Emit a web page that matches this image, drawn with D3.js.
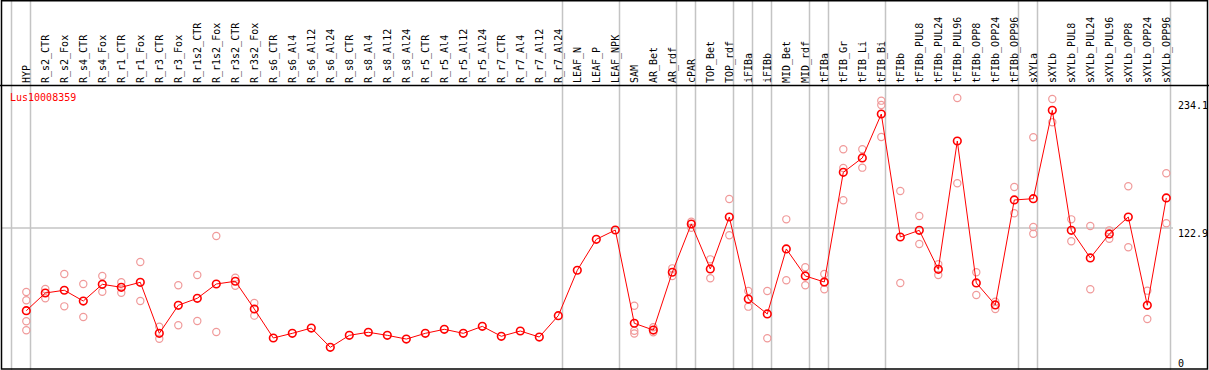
<!DOCTYPE html>
<html><head><meta charset="utf-8">
<script src="https://cdn.jsdelivr.net/npm/d3@7"></script>
<style>body{margin:0;background:#fff} svg{display:block}</style>
</head><body><svg id="c" width="1209" height="370"></svg>
<script>
const categories = ["HYP","R_s2_CTR","R_s2_Fox","R_s4_CTR","R_s4_Fox","R_r1_CTR","R_r1_Fox","R_r3_CTR","R_r3_Fox","R_r1s2_CTR","R_r1s2_Fox","R_r3s2_CTR","R_r3s2_Fox","R_s6_CTR","R_s6_Al4","R_s6_Al12","R_s6_Al24","R_s8_CTR","R_s8_Al4","R_s8_Al12","R_s8_Al24","R_r5_CTR","R_r5_Al4","R_r5_Al12","R_r5_Al24","R_r7_CTR","R_r7_Al4","R_r7_Al12","R_r7_Al24","LEAF_N","LEAF_P","LEAF_NPK","SAM","AR_Bet","AR_rdf","cPAR","TOP_Bet","TOP_rdf","iFIBa","iFIBb","MID_Bet","MID_rdf","tFIBa","tFIB_Gr","tFIB_Li","tFIB_Bi","tFIBb","tFIBb_PUL8","tFIBb_PUL24","tFIBb_PUL96","tFIBb_OPP8","tFIBb_OPP24","tFIBb_OPP96","sXYLa","sXYLb","sXYLb_PUL8","sXYLb_PUL24","sXYLb_PUL96","sXYLb_OPP8","sXYLb_OPP24","sXYLb_OPP96"];
const means = [44.8,61.5,64.1,53.9,69.7,66.9,71.6,23.4,49.9,56.5,70.0,72.6,46.4,19.0,23.4,28.4,10.2,21.5,24.4,21.5,18.0,23.4,27.2,23.4,30.0,20.6,25.6,19.9,40.1,83.0,112.2,121.0,32.9,26.5,81.1,126.7,84.2,133.3,55.8,41.7,103.1,77.6,71.9,175.5,189.1,230.6,114.4,120.7,83.9,205.1,71.0,50.2,149.4,150.6,234.1,120.7,94.6,117.3,133.3,49.9,151.3];
const replicates = [[62.5,54.6,34.8,26.3],[65.3,56.5],[79.5,48.9],[70.0,38.8],[77.6,62.7],[71.6,61.8],[90.8,53.9],[29.7,18.3],[68.8,31.0],[78.5,35.1],[115.4,24.7],[76.0,68.4],[52.1,40.1],
[],[],[],[],[],[],[],[],[],[],[],[],[],[],[],[],[],[],[],
[49.5,25.9,23.2],[29.1,24.4],[84.8,77.6],[128.9,123.2],[93.3,75.4],[150.3,116.0],[63.4,48.6],[63.4,18.7],[131.1,73.5],[85.8,68.8],[79.5,65.0,71.5],[197.3,179.6,149.1],[197.3,179.9],[243.2,239.1,208.9],[157.9,71.0],[134.3,107.8],[88.6,78.5],[245.7,165.2],[81.1,59.6],[53.3,46.4],[161.7,136.8],[208.6,123.9,117.5],[244.8,222.8],[131.1,110.4],[124.8,65.0],[120.7,112.8],[162.3,104.7],[63.7,36.9],[174.6,127.4]];
const groupEnds = ["HYP","R_r7_Al24","LEAF_NPK","AR_rdf","cPAR","TOP_rdf","iFIBa","iFIBb","MID_rdf","tFIBa","tFIB_Bi","tFIBb_OPP96","sXYLa","sXYLb_OPP96"];
const yTicks = [0,122.9,234.1];
const gridValues = [122.9];
const geneLabel = "Lus10008359";

const W = 1209, H = 370;
const svg = d3.select("#c");
const font = "'DejaVu Sans Mono', 'Liberation Mono', monospace";
const x = d3.scalePoint().domain(categories).range([26.3, 1166.3]);
const y = d3.scaleLinear().domain([0, 234.1]).range([358.1, 110.3]);
const step = x.step();
const grey = "#c4c4c4";

// vertical group separators
const sepX = [x(categories[0]) - step + 4.2].concat(groupEnds.map(c => x(c) + 4.2));
svg.selectAll("line.sep").data(sepX).enter().append("line")
  .attr("x1", d => d).attr("x2", d => d).attr("y1", 0).attr("y2", H)
  .attr("stroke", grey).attr("stroke-width", 1.5);

// horizontal grid
svg.selectAll("line.grid").data(gridValues).enter().append("line")
  .attr("x1", 1).attr("x2", 1173).attr("y1", d => y(d)).attr("y2", d => y(d))
  .attr("stroke", grey).attr("stroke-width", 1.5);

// header line
svg.append("line").attr("x1", 0).attr("x2", W).attr("y1", 85.5).attr("y2", 85.5)
  .attr("stroke", "#000").attr("stroke-width", 1.5);
// frame
svg.append("rect").attr("x", 1.5).attr("y", 0.75).attr("width", 1206).attr("height", 368.25)
  .attr("fill", "none").attr("stroke", "#000").attr("stroke-width", 1.5);

// column labels
svg.selectAll("text.cat").data(categories).enter().append("text")
  .attr("transform", d => `translate(${x(d)},83) rotate(-90)`)
  .attr("dy", "0.36em")
  .attr("font-family", font).attr("font-size", 10).attr("fill", "#000")
  .text(d => d);

// axis labels
const maxTick = d3.max(yTicks);
svg.selectAll("text.yt").data(yTicks).enter().append("text")
  .attr("x", 1178)
  .attr("y", d => d === maxTick ? y(d) - 1 : y(d) + 8.5)
  .attr("font-family", font).attr("font-size", 10).attr("fill", "#000")
  .text(d => d === 0 ? "0" : d.toFixed(1));

// gene label
svg.append("text").attr("x", 10).attr("y", 101)
  .attr("font-family", font).attr("font-size", 10).attr("fill", "#ff0000")
  .text(geneLabel);

// replicate points
const repPts = [];
replicates.forEach((arr, i) => arr.forEach(v => repPts.push({c: categories[i], v})));
svg.selectAll("circle.rep").data(repPts).enter().append("circle")
  .attr("cx", d => x(d.c)).attr("cy", d => y(d.v)).attr("r", 3.6)
  .attr("fill", "none").attr("stroke", "#f09a9a").attr("stroke-width", 1.2);

// mean line
const line = d3.line().x((d, i) => x(categories[i])).y(d => y(d));
svg.append("path").attr("d", line(means)).attr("fill", "none")
  .attr("stroke", "#ff0000").attr("stroke-width", 1);

// mean points
svg.selectAll("circle.mean").data(means).enter().append("circle")
  .attr("cx", (d, i) => x(categories[i])).attr("cy", d => y(d)).attr("r", 3.8)
  .attr("fill", "none").attr("stroke", "#ff0000").attr("stroke-width", 1.6);
</script></body></html>
